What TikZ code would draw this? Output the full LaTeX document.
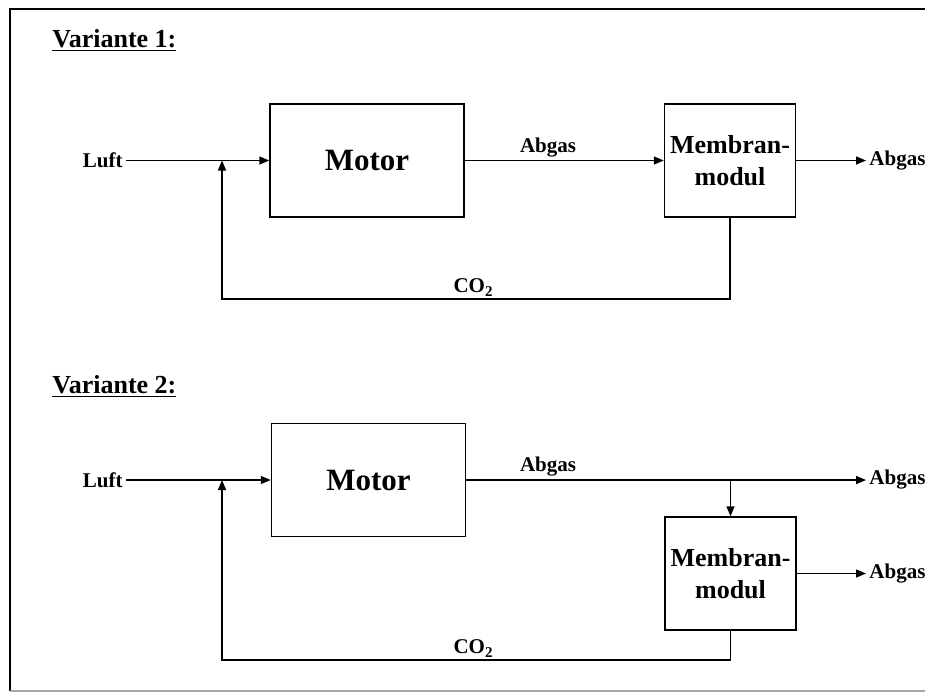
\documentclass[tikz,border=0pt]{standalone}
\usepackage{fontspec}
\setmainfont{Liberation Serif}
\usetikzlibrary{arrows.meta,positioning,calc}

\newcommand{\subtwo}{\raisebox{-0.45ex}{\fontsize{7.5}{8}\selectfont 2}}

\begin{document}
\begin{tikzpicture}[
  x=0.5pt, y=-0.5pt,
  box/.style={
    draw,
    line width=0.75pt,
    align=center,
    inner sep=0pt
  },
  motorbox/.style={box, minimum width=97pt, minimum height=56.5pt,
    font=\fontsize{15.5}{18}\selectfont\bfseries},
  membbox/.style={box, minimum width=65.5pt, minimum height=56.5pt,
    font=\fontsize{13}{16}\selectfont\bfseries},
  lbl/.style={inner sep=1.5pt, font=\fontsize{10.5}{12}\selectfont\bfseries},
  headline/.style={inner sep=0pt, font=\fontsize{13}{15}\selectfont\bfseries},
  arr/.style={-{Triangle[length=5pt,width=4pt]}, line width=0.75pt}
]
\useasboundingbox (0,0) rectangle (925,693);

% frame
\draw[line width=1pt] (950,9) -- (10,9) -- (10,691);
\draw[line width=1pt, black!35] (10,691) -- (950,691);

% Variante 1
\node[headline, anchor=base west] (var1) at (52,47) {\underline{Variante 1:}};
\node[motorbox] (motor1) at (367,160.5) {Motor};
\node[membbox, right=99.5pt of motor1] (memb1) {Membran-\\modul};
\node[lbl, anchor=east] (luft1) at (126,160.5) {Luft};
\node[lbl, anchor=west] (out1) at (866,160.5) {Abgas};
\coordinate (j1) at (222,160.5);
\coordinate (c1) at (222,299);

\draw[arr] (luft1) -- (motor1);
\draw[arr] (motor1) -- (memb1);
\node[lbl, above] (abg1) at (548,160.5) {Abgas};
\draw[arr] (memb1) -- (out1);
\draw[arr] (memb1.south) |- (c1) -- (j1);
\node[lbl, above, inner sep=1pt] (co1) at (473,299) {CO\subtwo};

% Variante 2
\node[headline, anchor=base west] (var2) at (52,393) {\underline{Variante 2:}};
\node[motorbox] (motor2) at (368.5,480) {Motor};
\node[membbox] (memb2) at (730.5,573.5) {Membran-\\modul};
\node[lbl, anchor=east] (luft2) at (126,480) {Luft};
\node[lbl, anchor=west] (out2) at (866,480) {Abgas};
\node[lbl, anchor=west] (out3) at (866,573.5) {Abgas};
\coordinate (j2) at (222,480);
\coordinate (c2) at (222,660);
\coordinate (b2) at (memb2.north |- motor2.east);

\draw[arr] (luft2) -- (motor2);
\draw[arr] (motor2) -- (out2);
\node[lbl, above] (abg2) at (548,480) {Abgas};
\draw[arr] (b2) -- (memb2);
\draw[arr] (memb2) -- (out3);
\draw[arr] (memb2.south) |- (c2) -- (j2);
\node[lbl, above, inner sep=1pt] (co2) at (473,660) {CO\subtwo};

\end{tikzpicture}
\end{document}
